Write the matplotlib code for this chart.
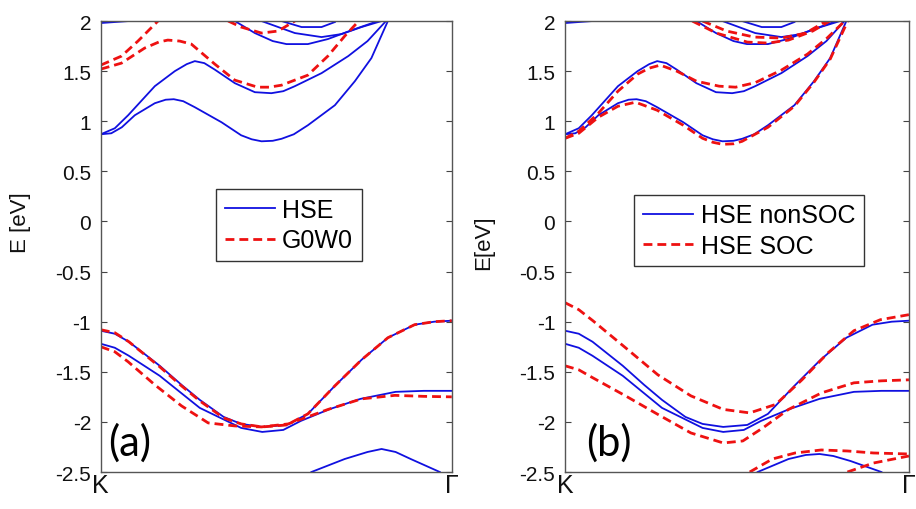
import matplotlib.pyplot as plt
import numpy as np

plt.rcParams['font.family'] = ['Liberation Sans', 'DejaVu Sans']

# ---- HSE (blue, same in both panels) ----
hse_c0_k = [0, 0.04, 0.08]
hse_c0_e = [1.98, 1.99, 2.0]
hse_c1_k = [0, 0.03, 0.06, 0.097, 0.154, 0.185, 0.208, 0.235, 0.268, 0.344, 0.40, 0.43, 0.458, 0.49, 0.515, 0.55, 0.59, 0.667, 0.724, 0.771, 0.818]
hse_c1_e = [0.87, 0.88, 0.94, 1.06, 1.18, 1.215, 1.22, 1.20, 1.14, 0.99, 0.86, 0.82, 0.80, 0.805, 0.825, 0.87, 0.96, 1.16, 1.40, 1.63, 2.0]
hse_c2_k = [0, 0.04, 0.078, 0.154, 0.211, 0.245, 0.268, 0.295, 0.325, 0.382, 0.439, 0.486, 0.52, 0.553, 0.629, 0.705, 0.76, 0.81]
hse_c2_e = [0.87, 0.93, 1.06, 1.35, 1.50, 1.57, 1.60, 1.58, 1.515, 1.38, 1.29, 1.28, 1.30, 1.35, 1.48, 1.65, 1.80, 1.99]
hse_c3_k = [0.382, 0.439, 0.49, 0.529, 0.59, 0.647, 0.724, 0.79]
hse_c3_e = [2.0, 1.88, 1.80, 1.77, 1.77, 1.82, 1.92, 2.0]
hse_c4_k = [0.458, 0.553, 0.629, 0.686, 0.743, 0.80]
hse_c4_e = [2.0, 1.88, 1.84, 1.87, 1.94, 2.0]
hse_c5_k = [0.515, 0.572, 0.629, 0.667]
hse_c5_e = [2.0, 1.94, 1.94, 1.99]
hse_v1_k = [0, 0.04, 0.08, 0.168, 0.23, 0.282, 0.35, 0.40, 0.46, 0.53, 0.59, 0.667, 0.743, 0.818, 0.894, 0.95, 1.0]
hse_v1_e = [-1.09, -1.12, -1.2, -1.44, -1.63, -1.78, -1.95, -2.02, -2.05, -2.03, -1.92, -1.64, -1.38, -1.16, -1.03, -1.0, -0.99]
hse_v2_k = [0, 0.04, 0.08, 0.168, 0.282, 0.40, 0.46, 0.52, 0.57, 0.65, 0.74, 0.84, 0.92, 1.0]
hse_v2_e = [-1.22, -1.26, -1.34, -1.54, -1.86, -2.06, -2.10, -2.08, -1.99, -1.875, -1.77, -1.70, -1.69, -1.69]
hse_v3a_k = [0.60, 0.695, 0.76, 0.80, 0.84, 0.883, 0.966]
hse_v3a_e = [-2.5, -2.37, -2.30, -2.27, -2.30, -2.37, -2.5]
hse_v3b_k = [0.56, 0.65, 0.70, 0.74, 0.78, 0.83, 0.92]
hse_v3b_e = [-2.5, -2.37, -2.33, -2.32, -2.34, -2.39, -2.5]

# ---- G0W0 (red, panel a) ----
gw_c1_k = [0, 0.059, 0.125, 0.165, 0.191, 0.225, 0.258, 0.325, 0.382, 0.447, 0.48, 0.515, 0.59, 0.647, 0.695, 0.735]
gw_c1_e = [1.52, 1.58, 1.73, 1.79, 1.81, 1.80, 1.77, 1.57, 1.41, 1.34, 1.34, 1.36, 1.46, 1.65, 1.85, 2.0]
gw_c2_k = [0, 0.059, 0.106, 0.163]
gw_c2_e = [1.56, 1.65, 1.80, 2.0]
gw_c3_k = [0.363, 0.40, 0.458, 0.505, 0.553]
gw_c3_e = [2.0, 1.94, 1.88, 1.90, 2.0]
gw_v1_k = [0, 0.04, 0.08, 0.168, 0.23, 0.282, 0.35, 0.40, 0.46, 0.53, 0.59, 0.667, 0.743, 0.818, 0.894, 0.95, 1.0]
gw_v1_e = [-1.08, -1.11, -1.2, -1.45, -1.64, -1.79, -1.96, -2.02, -2.05, -2.03, -1.92, -1.64, -1.38, -1.16, -1.03, -1.0, -0.99]
gw_v2_k = [0, 0.04, 0.078, 0.154, 0.23, 0.306, 0.382, 0.458, 0.534, 0.648, 0.743, 0.838, 0.92, 1.0]
gw_v2_e = [-1.25, -1.30, -1.40, -1.63, -1.84, -2.01, -2.04, -2.05, -2.02, -1.875, -1.77, -1.735, -1.745, -1.75]

# ---- HSE SOC (red, panel b) ----
soc_c1_k = [0, 0.04, 0.097, 0.154, 0.205, 0.268, 0.344, 0.40, 0.43, 0.458, 0.49, 0.515, 0.59, 0.667, 0.724, 0.771, 0.822]
soc_c1_e = [0.83, 0.88, 1.04, 1.15, 1.19, 1.11, 0.96, 0.83, 0.79, 0.77, 0.775, 0.80, 0.94, 1.15, 1.39, 1.62, 2.0]
soc_c2_k = [0, 0.04, 0.097, 0.154, 0.211, 0.245, 0.277, 0.325, 0.382, 0.448, 0.496, 0.553, 0.629, 0.705, 0.762, 0.81]
soc_c2_e = [0.83, 0.90, 1.08, 1.30, 1.47, 1.53, 1.56, 1.50, 1.40, 1.35, 1.34, 1.385, 1.51, 1.67, 1.83, 1.99]
soc_c3_k = [0.37, 0.44, 0.53, 0.59, 0.65, 0.72, 0.77]
soc_c3_e = [2.0, 1.88, 1.79, 1.78, 1.81, 1.90, 2.0]
soc_c4_k = [0.40, 0.47, 0.55, 0.63, 0.70, 0.76]
soc_c4_e = [2.0, 1.90, 1.84, 1.83, 1.88, 2.0]
soc_v1_k = [0, 0.04, 0.081, 0.176, 0.27, 0.366, 0.46, 0.537, 0.613, 0.689, 0.765, 0.84, 0.917, 1.0]
soc_v1_e = [-0.81, -0.88, -0.99, -1.26, -1.53, -1.74, -1.875, -1.91, -1.825, -1.58, -1.31, -1.09, -0.98, -0.93]
soc_v2_k = [0, 0.04, 0.081, 0.176, 0.27, 0.366, 0.46, 0.517, 0.575, 0.65, 0.746, 0.84, 0.92, 1.0]
soc_v2_e = [-1.44, -1.48, -1.56, -1.74, -1.925, -2.11, -2.21, -2.19, -2.06, -1.875, -1.71, -1.61, -1.59, -1.58]
soc_v3_k = [0.537, 0.603, 0.669, 0.745, 0.821, 0.897, 1.0]
soc_v3_e = [-2.5, -2.37, -2.31, -2.28, -2.29, -2.31, -2.32]
soc_v4_k = [0.821, 0.897, 1.0]
soc_v4_e = [-2.5, -2.41, -2.34]

yticks = [2, 1.5, 1, 0.5, 0, -0.5, -1, -1.5, -2, -2.5]
ytick_labels = ['2', '1.5', '1', '0.5', '0', '-0.5', '-1', '-1.5', '-2', '-2.5']
xtick_labels = ['K', '\u0393']

hse_bands = [(hse_c0_k, hse_c0_e), (hse_c1_k, hse_c1_e), (hse_c2_k, hse_c2_e),
             (hse_c3_k, hse_c3_e), (hse_c4_k, hse_c4_e), (hse_c5_k, hse_c5_e),
             (hse_v1_k, hse_v1_e), (hse_v2_k, hse_v2_e)]
gw_bands = [(gw_c1_k, gw_c1_e), (gw_c2_k, gw_c2_e), (gw_c3_k, gw_c3_e),
            (gw_v1_k, gw_v1_e), (gw_v2_k, gw_v2_e)]
soc_bands = [(soc_c1_k, soc_c1_e), (soc_c2_k, soc_c2_e), (soc_c3_k, soc_c3_e),
             (soc_c4_k, soc_c4_e), (soc_v1_k, soc_v1_e), (soc_v2_k, soc_v2_e),
             (soc_v3_k, soc_v3_e), (soc_v4_k, soc_v4_e)]

blue = '#1010e0'
red = '#ee1111'
blw = 1.3
rlw = 2.0
dash = (3.2, 1.8)

fig = plt.figure(figsize=(9.16, 5.10), dpi=100)
ax1 = fig.add_axes([0.110, 0.0725, 0.3832, 0.8843])
ax2 = fig.add_axes([0.6168, 0.0725, 0.3755, 0.8843])


def style(ax, ylabel, lx, ly):
    ax.set_xlim(0, 1)
    ax.set_ylim(-2.5, 2)
    ax.set_yticks(yticks)
    ax.set_yticklabels(ytick_labels)
    ax.set_xticks([0, 1])
    ax.set_xticklabels(xtick_labels)
    ax.tick_params(axis='y', direction='in', length=4, right=True, labelsize=15,
                   pad=7, color='#444444', labelcolor='#111111')
    ax.tick_params(axis='x', direction='in', length=0, labelsize=18, pad=1,
                   labelcolor='#111111')
    for s in ax.spines.values():
        s.set_color('#555555')
        s.set_linewidth(1.0)
    ax.set_ylabel(ylabel, fontsize=16, color='#111111')
    ax.yaxis.set_label_coords(lx, ly)


# panel (a)
for i, (k, e) in enumerate(hse_bands):
    ax1.plot(k, e, color=blue, lw=blw, label='HSE' if i == 0 else None)
ax1.plot(hse_v3a_k, hse_v3a_e, color=blue, lw=blw)
for i, (k, e) in enumerate(gw_bands):
    ax1.plot(k, e, color=red, lw=rlw, dashes=dash, label='G0W0' if i == 0 else None)
style(ax1, 'E [eV]', -0.20, 0.555)
ax1.text(0.022, -2.2, '(a)', fontsize=30, family=['Lato', 'DejaVu Sans'], va='center')
leg1 = ax1.legend(loc='upper left', bbox_to_anchor=(0.328, 0.627), fontsize=18,
                  handlelength=2.0, fancybox=False, edgecolor='#333333',
                  framealpha=1, borderpad=0.35, labelspacing=0.25, handletextpad=0.3,
                  borderaxespad=0)
leg1.get_frame().set_linewidth(1.0)

# panel (b)
for i, (k, e) in enumerate(hse_bands):
    ax2.plot(k, e, color=blue, lw=blw, label='HSE nonSOC' if i == 0 else None)
ax2.plot(hse_v3b_k, hse_v3b_e, color=blue, lw=blw)
for i, (k, e) in enumerate(soc_bands):
    ax2.plot(k, e, color=red, lw=rlw, dashes=dash, label='HSE SOC' if i == 0 else None)
style(ax2, 'E[eV]', -0.205, 0.51)
ax2.text(0.062, -2.2, '(b)', fontsize=30, family=['Lato', 'DejaVu Sans'], va='center')
leg2 = ax2.legend(loc='upper left', bbox_to_anchor=(0.202, 0.615), fontsize=18,
                  handlelength=2.0, fancybox=False, edgecolor='#333333',
                  framealpha=1, borderpad=0.35, labelspacing=0.25, handletextpad=0.3,
                  borderaxespad=0)
leg2.get_frame().set_linewidth(1.0)

fig.savefig('out.png', dpi=100)
